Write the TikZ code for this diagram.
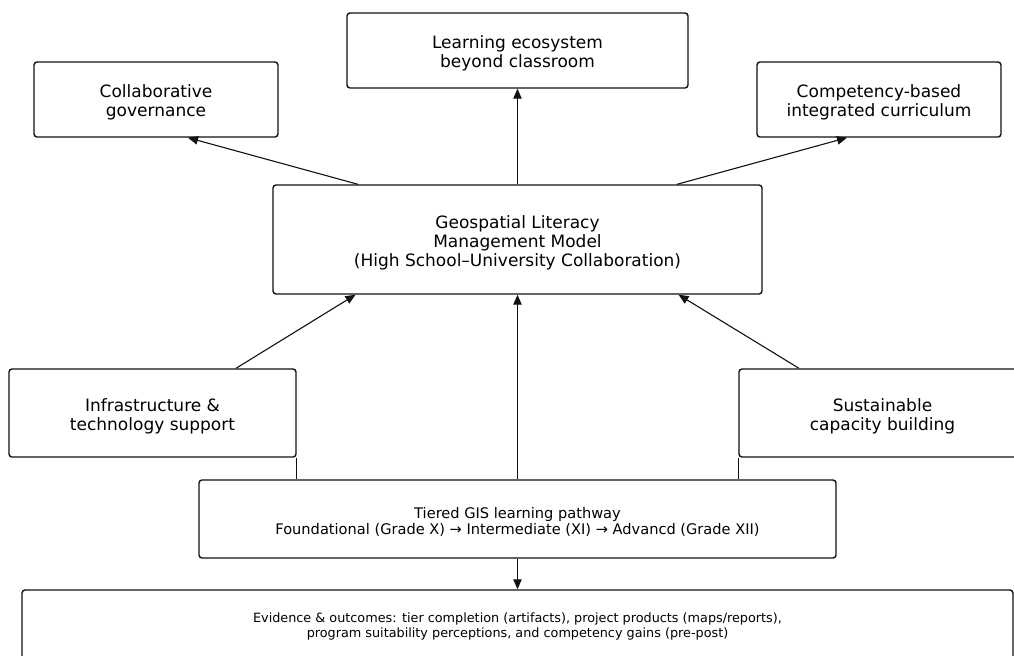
\documentclass[tikz,border=0pt]{standalone}
\usepackage{fontspec}
\setmainfont{DejaVu Sans}
\usetikzlibrary{positioning,arrows.meta,calc}
\definecolor{ink}{HTML}{111111}
\newcommand{\alza}[1]{\rule{0pt}{#1}}
\tikzset{
  caja/.style={draw=ink,rounded corners=1.5pt,align=center,inner sep=0pt,fill=white,line width=0.7pt},
  flecha/.style={-{Triangle[length=5pt,width=4.2pt]},line width=0.55pt,color=ink},
  linea/.style={line width=0.55pt,color=ink},
}
\begin{document}
\begin{tikzpicture}[x=0.5pt,y=-0.5pt,
  grande/.style={caja,font=\fontsize{8.5}{9.4}\selectfont},
  media/.style={caja,font=\fontsize{7.3}{7.75}\selectfont},
  chica/.style={caja,font=\fontsize{6.4}{7.5}\selectfont}]
  \clip (0,0) rectangle (1014,655);
  \fill[white] (0,0) rectangle (1014,655);
  % core model
  \node[grande,minimum width=244.5pt,minimum height=54.5pt] (model) at (517.5,239.5)
    {\alza{9.5pt}Geospatial Literacy\\Management Model\\(High School–University Collaboration)};
  % outputs above
  \node[grande,minimum width=170.5pt,minimum height=37.5pt] (ecosys) at (517.5,50.5) {\alza{9.5pt}Learning ecosystem\\beyond classroom};
  \node[grande,minimum width=122pt,minimum height=37.5pt] (gov) at (156,99.5) {\alza{9.5pt}Collaborative\\governance};
  \node[grande,minimum width=122pt,minimum height=37.5pt] (curr) at (879,99.5) {\alza{9.5pt}Competency-based\\integrated curriculum};
  % supports below
  \node[grande,minimum width=143.5pt,minimum height=44pt] (infra) at (152.5,413) {\alza{9.5pt}Infrastructure \&\\technology support};
  \node[grande,minimum width=143.5pt,minimum height=44pt] (capac) at (882.5,413) {\alza{9.5pt}Sustainable\\capacity building};
  \node[media,minimum width=318.5pt,minimum height=39pt] (tier) at (517.5,519)
    {\alza{8.5pt}Tiered GIS learning pathway\\Foundational (Grade X) → Intermediate (XI) → Advancd (Grade XII)};
  \node[chica,minimum width=495.5pt,minimum height=35pt] (evid) at (517.5,625)
    {\alza{5.9pt}Evidence \& outcomes: tier completion (artifacts), project products (maps/reports),\\program suitability perceptions, and competency gains (pre-post)};
  \draw[flecha] ([xshift=-79.75pt]model.north) -- ([xshift=16pt]gov.south);
  \draw[flecha] (model.north) -- (ecosys.south);
  \draw[flecha] ([xshift=79.75pt]model.north) -- ([xshift=-16pt]curr.south);
  \draw[flecha] ([xshift=41.75pt]infra.north) -- ([xshift=-81pt]model.south);
  \draw[flecha] ([xshift=-41.75pt]capac.north) -- ([xshift=80.5pt]model.south);
  \draw[flecha] (tier.north) -- (model.south);
  \draw[linea] (infra.south east) -- (infra.south east |- tier.north);
  \draw[linea] (capac.south west) -- (capac.south west |- tier.north);
  \draw[flecha] (tier.south) -- (evid.north);
\end{tikzpicture}
\end{document}
